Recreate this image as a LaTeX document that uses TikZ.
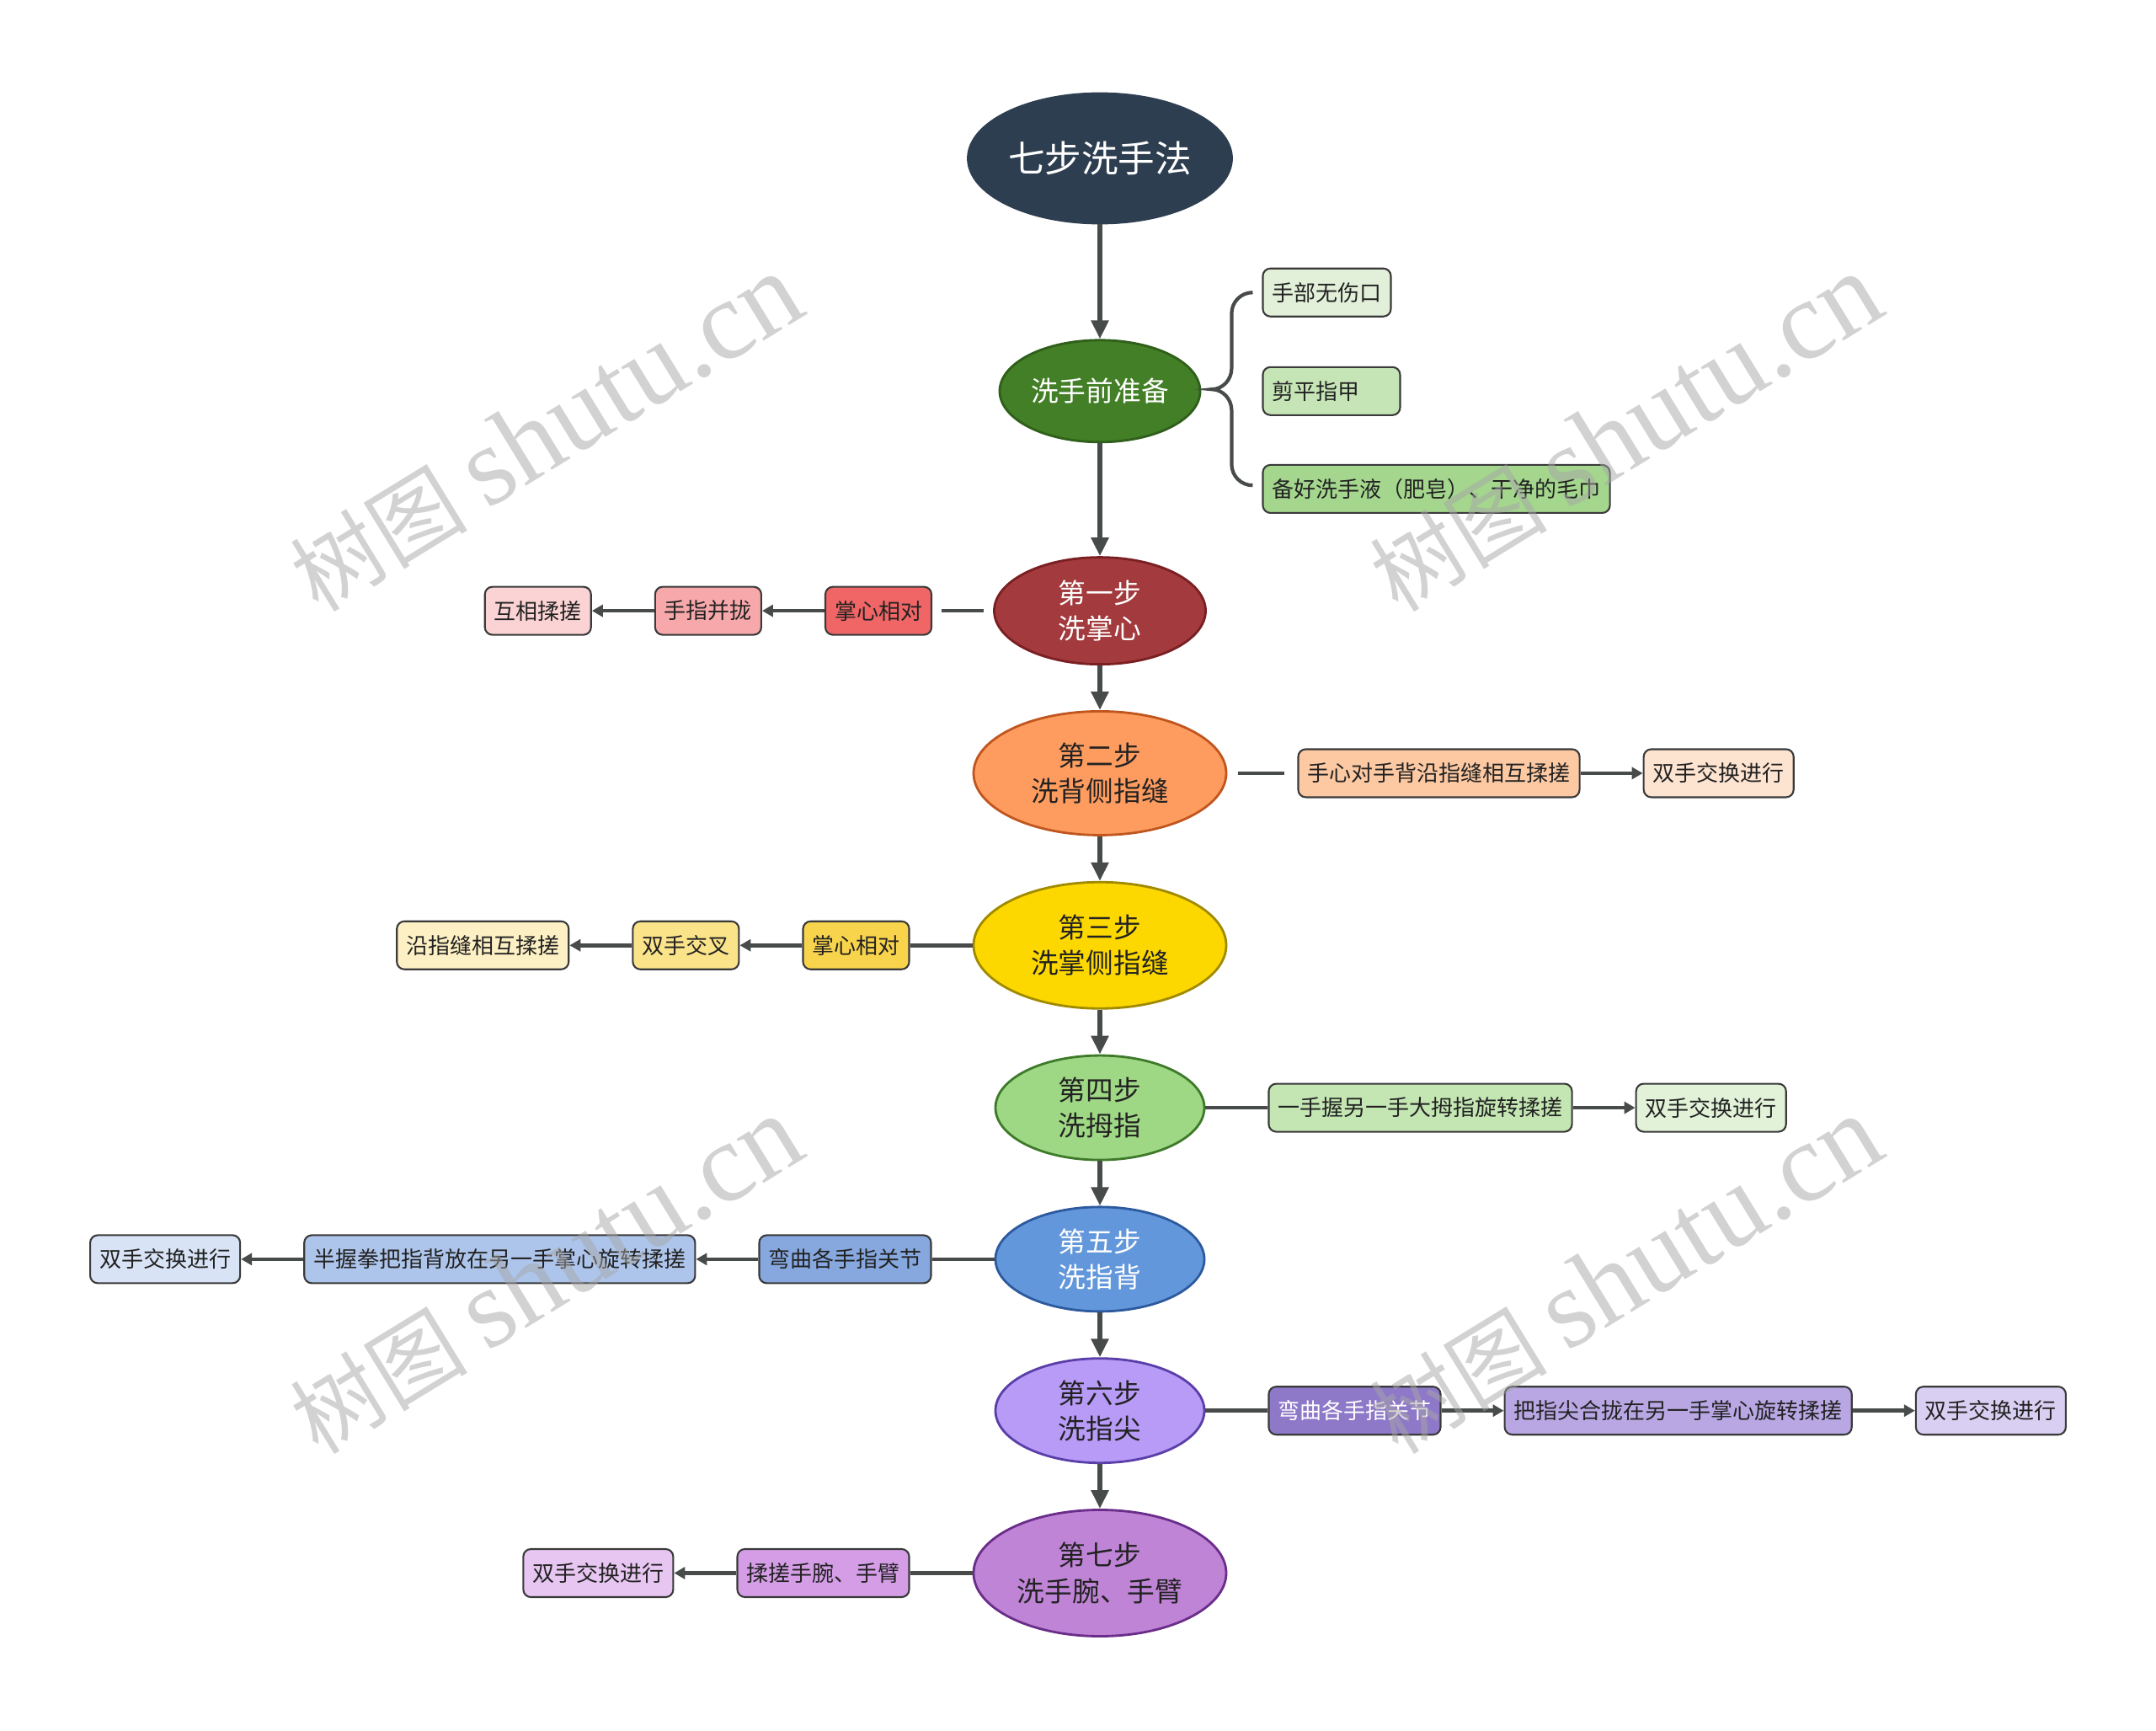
\documentclass[tikz,border=0pt]{standalone}
\usepackage{fontspec}
\setmainfont{Noto Sans CJK SC}
\newfontfamily\wmlatin{Liberation Serif}
\usetikzlibrary{arrows.meta,positioning,shapes.geometric}

\definecolor{lnk}{HTML}{474B4A}
\definecolor{edge}{HTML}{3A3A3A}
\definecolor{txt}{HTML}{222222}
\definecolor{rootc}{HTML}{2D3E50}
\definecolor{prepc}{HTML}{437F26}\definecolor{prepd}{HTML}{2F5F1A}
\definecolor{pa}{HTML}{E2F0D9}\definecolor{pb}{HTML}{C6E5B6}\definecolor{pc}{HTML}{A4D68E}
\definecolor{sa}{HTML}{A33A3D}\definecolor{sad}{HTML}{7A1F22}
\definecolor{sb}{HTML}{FE9C5F}\definecolor{sbd}{HTML}{C0561E}
\definecolor{sc}{HTML}{FDD800}\definecolor{scd}{HTML}{A08A00}
\definecolor{sd}{HTML}{9FD885}\definecolor{sdd}{HTML}{3E7A2A}
\definecolor{se}{HTML}{6397DB}\definecolor{sed}{HTML}{2D5A9E}
\definecolor{sf}{HTML}{B79BF7}\definecolor{sfd}{HTML}{5B3FA8}
\definecolor{sg}{HTML}{BF84D6}\definecolor{sgd}{HTML}{6A2D8A}
\definecolor{ra1}{HTML}{F06566}\definecolor{ra2}{HTML}{F7A8AA}\definecolor{ra3}{HTML}{FBD3D4}
\definecolor{rb1}{HTML}{FCC9A3}\definecolor{rb2}{HTML}{FDE4D1}
\definecolor{rc1}{HTML}{F8D44C}\definecolor{rc2}{HTML}{FBE38A}\definecolor{rc3}{HTML}{FDF0C4}
\definecolor{rd1}{HTML}{C3E6B3}\definecolor{rd2}{HTML}{E1F2D9}
\definecolor{re1}{HTML}{86A8DF}\definecolor{re2}{HTML}{AEC5EB}\definecolor{re3}{HTML}{D8E3F5}
\definecolor{rf1}{HTML}{8E79C9}\definecolor{rf2}{HTML}{B8A7E3}\definecolor{rf3}{HTML}{D9CFF2}
\definecolor{rg1}{HTML}{D49DE6}\definecolor{rg2}{HTML}{E7C6F1}

\begin{document}
\begin{tikzpicture}[
node distance=5.3mm and 7.4mm,
stepell/.style={ellipse,inner sep=0pt,align=center,line width=0.8pt,text=txt,font=\fontsize{9.3pt}{12pt}\selectfont},
leaf/.style={draw=edge,rounded corners=0.9mm,line width=0.6pt,minimum height=5.7mm,inner xsep=1.1mm,inner ysep=0pt,text=txt,font=\fontsize{7.4pt}{9pt}\selectfont},
vflow/.style={-{Triangle[length=2.2mm,width=2mm]},line width=1.6pt,draw=lnk},
flow/.style={-{Triangle[length=1.3mm,width=1.4mm]},line width=1.3pt,draw=lnk},
link/.style={line width=1.3pt,draw=lnk},
curly/.style={line width=1.2pt,draw=lnk},
wmark/.style={text=black!35,text opacity=0.5,inner sep=0pt,font=\fontsize{30pt}{30pt}\selectfont}]
\useasboundingbox (0,0) rectangle (25.6,-20.55);
% main column
\node[stepell,fill=rootc,draw=rootc,text=white,font=\fontsize{12.4pt}{15pt}\selectfont,minimum width=3.13cm,minimum height=1.54cm] (root) at (13.06,-1.88) {七步洗手法};
\node[stepell,fill=prepc,draw=prepd,text=white,minimum width=2.38cm,minimum height=1.21cm,below=13.6mm of root] (prep) {洗手前准备};
\node[stepell,fill=sa,draw=sad,text=white,minimum width=2.51cm,minimum height=1.27cm,below=13.4mm of prep] (s1) {第一步\\洗掌心};
\node[stepell,fill=sb,draw=sbd,minimum width=3cm,minimum height=1.47cm,below=of s1] (s2) {第二步\\洗背侧指缝};
\node[stepell,fill=sc,draw=scd,minimum width=3cm,minimum height=1.5cm,below=of s2] (s3) {第三步\\洗掌侧指缝};
\node[stepell,fill=sd,draw=sdd,minimum width=2.48cm,minimum height=1.24cm,below=of s3] (s4) {第四步\\洗拇指};
\node[stepell,fill=se,draw=sed,text=white,minimum width=2.48cm,minimum height=1.24cm,below=of s4] (s5) {第五步\\洗指背};
\node[stepell,fill=sf,draw=sfd,minimum width=2.48cm,minimum height=1.24cm,below=of s5] (s6) {第六步\\洗指尖};
\node[stepell,fill=sg,draw=sgd,minimum width=3cm,minimum height=1.5cm,below=of s6] (s7) {第七步\\洗手腕、手臂};
% preparation
\node[leaf,fill=pb,right=7.2mm of prep,text width=1.41cm,align=left] (p2) {剪平指甲};
\node[leaf,fill=pa,above=5.8mm of p2.north west,anchor=south west] (p1) {手部无伤口};
\node[leaf,fill=pc,below=5.7mm of p2.south west,anchor=north west] (p3) {备好洗手液（肥皂）、干净的毛巾};
% step rows
\node[leaf,fill=ra1,left=7.2mm of s1] (r1a) {掌心相对};
\node[leaf,fill=ra2,left=of r1a] (r1b) {手指并拢};
\node[leaf,fill=ra3,left=of r1b] (r1c) {互相揉搓};
\node[leaf,fill=rb1,right=8.3mm of s2] (r2a) {手心对手背沿指缝相互揉搓};
\node[leaf,fill=rb2,right=of r2a] (r2b) {双手交换进行};
\node[leaf,fill=rc1,left=of s3] (r3a) {掌心相对};
\node[leaf,fill=rc2,left=of r3a] (r3b) {双手交叉};
\node[leaf,fill=rc3,left=of r3b] (r3c) {沿指缝相互揉搓};
\node[leaf,fill=rd1,right=of s4] (r4a) {一手握另一手大拇指旋转揉搓};
\node[leaf,fill=rd2,right=of r4a] (r4b) {双手交换进行};
\node[leaf,fill=re1,left=of s5] (r5a) {弯曲各手指关节};
\node[leaf,fill=re2,left=of r5a] (r5b) {半握拳把指背放在另一手掌心旋转揉搓};
\node[leaf,fill=re3,left=of r5b] (r5c) {双手交换进行};
\node[leaf,fill=rf1,text=white,right=of s6] (r6a) {弯曲各手指关节};
\node[leaf,fill=rf2,right=of r6a] (r6b) {把指尖合拢在另一手掌心旋转揉搓};
\node[leaf,fill=rf3,right=of r6b] (r6c) {双手交换进行};
\node[leaf,fill=rg1,left=of s7] (r7a) {揉搓手腕、手臂};
\node[leaf,fill=rg2,left=of r7a] (r7b) {双手交换进行};
% connectors
\draw[vflow] (root) -- (prep);
\draw[vflow] (prep) -- (s1);
\draw[vflow] (s1) -- (s2);
\draw[vflow] (s2) -- (s3);
\draw[vflow] (s3) -- (s4);
\draw[vflow] (s4) -- (s5);
\draw[vflow] (s5) -- (s6);
\draw[vflow] (s6) -- (s7);
\draw[curly] ([xshift=-1.1mm]p1.west) to[out=180,in=90] ++(-2.5mm,-2.5mm) -- ++(0,-6.5mm)
  to[out=-90,in=0] ++(-2.4mm,-2.5mm) to[out=0,in=90] ++(2.4mm,-2.5mm) -- ++(0,-6.4mm)
  to[out=-90,in=180] ++(2.5mm,-2.5mm);
\draw[link,shorten <=1.1mm,shorten >=1.1mm] (s1) -- (r1a);
\draw[flow] (r1a) -- (r1b);
\draw[flow] (r1b) -- (r1c);
\draw[link,shorten <=1.3mm,shorten >=1.5mm] (s2) -- (r2a);
\draw[flow] (r2a) -- (r2b);
\draw[link] (s3) -- (r3a);
\draw[flow] (r3a) -- (r3b);
\draw[flow] (r3b) -- (r3c);
\draw[link] (s4) -- (r4a);
\draw[flow] (r4a) -- (r4b);
\draw[link] (s5) -- (r5a);
\draw[flow] (r5a) -- (r5b);
\draw[flow] (r5b) -- (r5c);
\draw[link] (s6) -- (r6a);
\draw[flow] (r6a) -- (r6b);
\draw[flow] (r6b) -- (r6c);
\draw[link] (s7) -- (r7a);
\draw[flow] (r7a) -- (r7b);
% watermark
\node[wmark,rotate=31.5] (wm1) at (6.48,-5.14) {树图 {\wmlatin\fontsize{38pt}{38pt}\selectfont shutu.cn}};
\node[wmark,rotate=31.5] (wm2) at (19.30,-5.14) {树图 {\wmlatin\fontsize{38pt}{38pt}\selectfont shutu.cn}};
\node[wmark,rotate=31.5] (wm3) at (6.48,-15.14) {树图 {\wmlatin\fontsize{38pt}{38pt}\selectfont shutu.cn}};
\node[wmark,rotate=31.5] (wm4) at (19.30,-15.14) {树图 {\wmlatin\fontsize{38pt}{38pt}\selectfont shutu.cn}};
\end{tikzpicture}
\end{document}
